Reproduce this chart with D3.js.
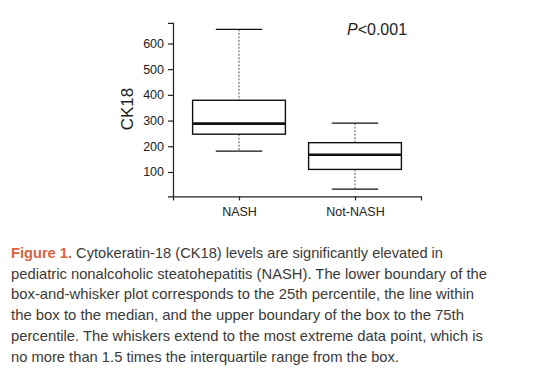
<!DOCTYPE html>
<meta charset="utf-8">
<script src="https://d3js.org/d3.v7.min.js"></script>
<style>
  body { margin: 0; background: #fff; }
  svg text { font-family: "Liberation Sans", Arial, sans-serif; }
</style>
<div id="chart"></div>
<script>
// groups and box statistics
var groups = ["NASH", "Not-NASH"];
var whiskerLow = [181, 33];
var q1 = [247, 110];
var medians = [288, 167];
var q3 = [379, 214];
var whiskerHigh = [655, 290];
var yTicks = [100, 200, 300, 400, 500, 600];
var pText = "<0.001";

var captionLines = [
  "Cytokeratin-18 (CK18) levels are significantly elevated in",
  "pediatric nonalcoholic steatohepatitis (NASH). The lower boundary of the",
  "box-and-whisker plot corresponds to the 25th percentile, the line within",
  "the box to the median, and the upper boundary of the box to the 75th",
  "percentile. The whiskers extend to the most extreme data point, which is",
  "no more than 1.5 times the interquartile range from the box."
];
var lineEnds = [443, 487, 474, 464, 483, 399];

var width = 554, height = 376;

var svg = d3.select("#chart").append("svg")
  .attr("width", width)
  .attr("height", height);

var x = d3.scalePoint().domain(groups).range([173, 421]).padding(0.569);
var y = d3.scaleLinear().domain([5, 680]).range([196.4, 22.9]);
var step = x.step();

// axes
var yAxis = d3.axisLeft(y).tickValues(yTicks).tickSizeOuter(0).tickSize(5).tickPadding(4);
svg.append("g")
  .attr("transform", "translate(173,0)")
  .call(yAxis)
  .call(function (g) {
    g.selectAll("text").attr("font-size", 12.5).attr("fill", "#222");
    g.selectAll("line,path").attr("stroke", "#222").attr("stroke-width", 1.2);
  });

var xAxis = d3.axisBottom(x).tickSizeOuter(0).tickSize(4).tickPadding(7);
svg.append("g")
  .attr("transform", "translate(0,196.4)")
  .call(xAxis)
  .call(function (g) {
    g.selectAll("text").attr("font-size", 12.5).attr("fill", "#222");
    g.selectAll("line,path").attr("stroke", "#222").attr("stroke-width", 1.2);
  });

svg.append("text")
  .attr("transform", "translate(133," + (y(345)) + ") rotate(-90)")
  .attr("text-anchor", "middle")
  .attr("font-size", 17)
  .attr("fill", "#222")
  .text("CK18");

// boxes
var g = svg.selectAll(".box")
  .data(groups)
  .enter()
  .append("g")
  .attr("class", "box");

// dotted whiskers
g.append("line")
  .attr("x1", function (d) { return x(d); })
  .attr("x2", function (d) { return x(d); })
  .attr("y1", function (d, i) { return y(whiskerHigh[i]); })
  .attr("y2", function (d, i) { return y(q3[i]); })
  .attr("stroke", "#555").attr("stroke-width", 1).attr("stroke-dasharray", "2,1.5");
g.append("line")
  .attr("x1", function (d) { return x(d); })
  .attr("x2", function (d) { return x(d); })
  .attr("y1", function (d, i) { return y(q1[i]); })
  .attr("y2", function (d, i) { return y(whiskerLow[i]); })
  .attr("stroke", "#555").attr("stroke-width", 1).attr("stroke-dasharray", "2,1.5");

// caps
[whiskerHigh, whiskerLow].forEach(function (arr) {
  g.append("line")
    .attr("x1", function (d) { return x(d) - step * 0.2; })
    .attr("x2", function (d) { return x(d) + step * 0.2; })
    .attr("y1", function (d, i) { return y(arr[i]); })
    .attr("y2", function (d, i) { return y(arr[i]); })
    .attr("stroke", "#111").attr("stroke-width", 1.3);
});

g.append("rect")
  .attr("x", function (d) { return x(d) - step * 0.4; })
  .attr("width", step * 0.8)
  .attr("y", function (d, i) { return y(q3[i]); })
  .attr("height", function (d, i) { return y(q1[i]) - y(q3[i]); })
  .attr("fill", "#fff")
  .attr("stroke", "#111")
  .attr("stroke-width", 1.4);

g.append("line")
  .attr("x1", function (d) { return x(d) - step * 0.4; })
  .attr("x2", function (d) { return x(d) + step * 0.4; })
  .attr("y1", function (d, i) { return y(medians[i]); })
  .attr("y2", function (d, i) { return y(medians[i]); })
  .attr("stroke", "#111").attr("stroke-width", 2.6);

// p value
var pt = svg.append("text")
  .attr("x", 347).attr("y", 34.5)
  .attr("font-size", 16).attr("fill", "#222");
pt.append("tspan").attr("font-style", "italic").text("P");
pt.append("tspan").text(pText);

// caption
var cap = svg.append("g").attr("class", "caption");
captionLines.forEach(function (line, i) {
  var t = cap.append("text")
    .attr("x", 11)
    .attr("y", 258 + i * 20.7)
    .attr("font-size", 14.5)
    .attr("fill", "#3a3a3a")
    .attr("textLength", lineEnds[i] - 11)
    .attr("lengthAdjust", "spacingAndGlyphs");
  if (i === 0) {
    t.append("tspan").attr("fill", "#d9623f").attr("font-weight", "bold").text("Figure 1. ");
  }
  t.append("tspan").text(line);
});
</script>
